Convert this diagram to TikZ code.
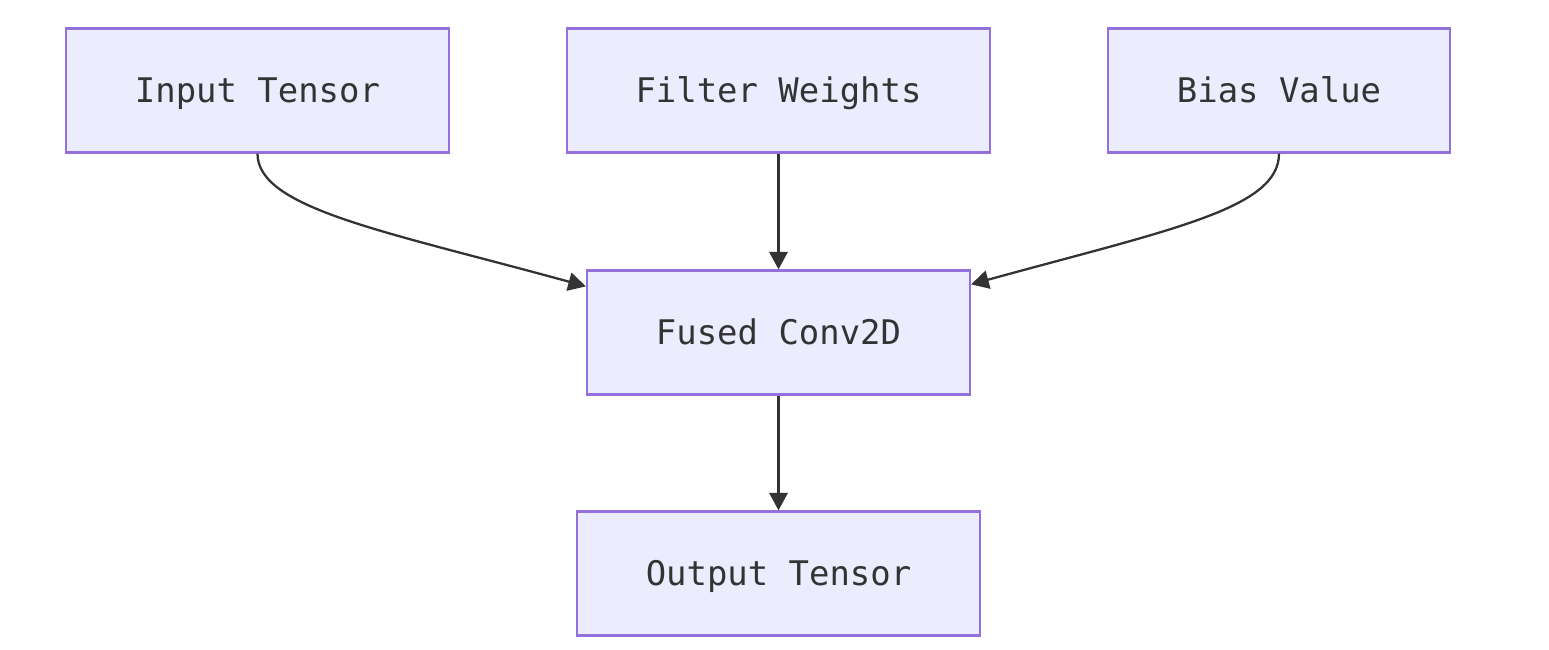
\documentclass[tikz,border=0pt]{standalone}
\usepackage{fontspec}
\setmonofont{DejaVu Sans Mono}
\usetikzlibrary{arrows.meta,calc}

\definecolor{boxfill}{HTML}{ECECFF}
\definecolor{boxline}{HTML}{9370DB}
\definecolor{inkgray}{HTML}{333333}

\tikzset{
  block/.style={draw=boxline, fill=boxfill, line width=1.3pt,
    minimum height=2.48cm, text=inkgray, text height=14pt, text depth=0pt,
    font=\ttfamily\fontsize{19.3}{23}\selectfont},
  flow/.style={draw=inkgray, line width=1.3pt,
    -{Triangle[length=10pt,width=10.5pt]}}
}

\begin{document}
\begin{tikzpicture}
    \useasboundingbox (0,0) rectangle (30.98,-13);
    \node[block, minimum width=7.66cm] (input) at (5.15,-1.81) {Input Tensor};
    \node[block, minimum width=8.46cm] (filter) at (15.57,-1.81) {Filter Weights};
    \node[block, minimum width=6.84cm] (bias) at (25.58,-1.81) {Bias Value};
    \node[block, minimum width=7.66cm] (fused) at (15.57,-6.65) {Fused Conv2D};
    \node[block, minimum width=8.06cm] (output) at (15.57,-11.47) {Output Tensor};

    \draw[flow] (input.south) .. controls +(0,-1.1) and +(-4,1.1) .. ($(fused.north west)+(0,-0.34)$);
    \draw[flow] (filter.south) -- (fused.north);
    \draw[flow] (bias.south) .. controls +(0,-1.1) and +(4,1.1) .. ($(fused.north east)+(0,-0.30)$);
    \draw[flow] (fused.south) -- (output.north);
\end{tikzpicture}
\end{document}
